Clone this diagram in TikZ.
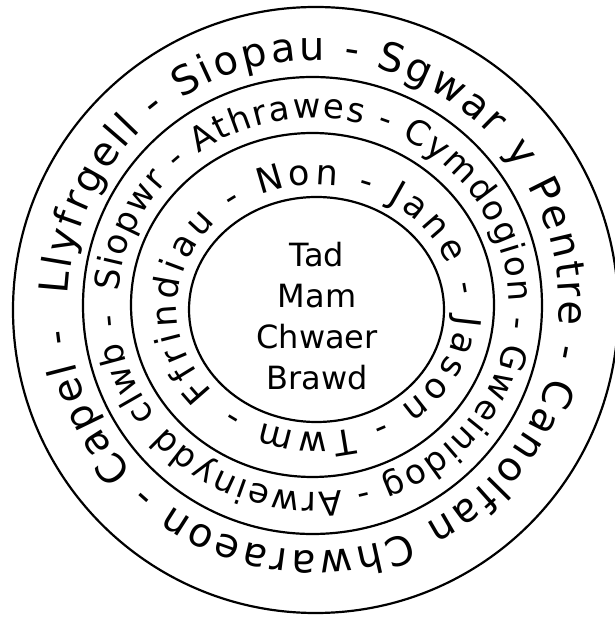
\documentclass[tikz,border=0pt]{standalone}
\usepackage{fontspec}
\setmainfont{DejaVu Sans}
\usetikzlibrary{calc, decorations.text}

\begin{document}
\begin{tikzpicture}[x=1pt, y=1pt,
  ring/.style={draw, line width=2.2pt},
  ringtext/.style={decorate, decoration={text along path,
    text align={fit to path}, text={#1}}}]
  \useasboundingbox (0,0) rectangle (614,619);
  % canolbwyntiau'r cylchoedd
  \coordinate (Oin) at (316.5,309.5);
  \coordinate (Othree) at (312.5,314);
  \coordinate (Otwo) at (312.5,313.5);
  \coordinate (Oout) at (315.6,309);
  % y pedwar cylch
  \draw[ring] (Oin) ellipse [x radius=127.5pt, y radius=112.5pt];
  \draw[ring] (Othree) ellipse [x radius=181.5pt, y radius=172pt];
  \draw[ring] (Otwo) ellipse [x radius=229.5pt, y radius=228.5pt];
  \draw[ring] (Oout) ellipse [x radius=302.6pt, y radius=303pt];
  % teulu yn y canol
  \node[align=center, inner sep=0pt, font=\fontsize{32}{41}\selectfont]
    (teulu) at (317,302.8) {Tad\\Mam\\Chwaer\\Brawd};
  % testun o amgylch
  \coordinate (Ta) at (317,310.5);
  \coordinate (Tb) at (313.5,314);
  \coordinate (Tc) at (313.5,313.5);
  \path[ringtext={|\fontsize{35}{35}\selectfont|Ffrindiau - Non - Jane - Jason - Twm -}]
    ($(Ta)+(222:140pt and 123.5pt)$)
    arc[start angle=222, end angle=-127, x radius=140pt, y radius=123.5pt];
  \path[ringtext={|\fontsize{34}{34}\selectfont|Siopwr - Athrawes - Cymdogion - Gweinidog - Arweinydd clwb -}]
    ($(Tb)+(176:195.5pt and 187pt)$)
    arc[start angle=176, end angle=-177, x radius=195.5pt, y radius=187pt];
  \path[ringtext={|\fontsize{40}{40}\selectfont|Llyfrgell - Siopau - Sgwar y Pentre - Canolfan Chwaraeon - Capel -}]
    ($(Tc)+(177.5:245.5pt and 245.5pt)$)
    arc[start angle=177.5, end angle=-174.5, x radius=245.5pt, y radius=245.5pt];
\end{tikzpicture}
\end{document}
